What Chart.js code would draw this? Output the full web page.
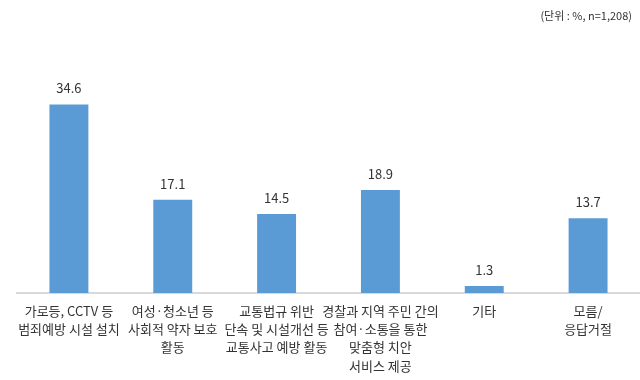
<!DOCTYPE html>
<html>
<head>
<meta charset="utf-8">
<script src="https://cdn.jsdelivr.net/npm/chart.js@4/dist/chart.umd.min.js"></script>
<style>
html,body{margin:0;padding:0;background:#fff;}
#wrap{width:640px;height:380px;position:relative;}
</style>
</head>
<body>
<div id="wrap"><canvas id="c" width="640" height="380"></canvas></div>
<script>
const categories = [
  ["가로등, CCTV 등", "범죄예방 시설 설치"],
  ["여성·청소년 등", "사회적 약자 보호", "활동"],
  ["교통법규 위반", "단속 및 시설개선 등", "교통사고 예방 활동"],
  ["경찰과 지역 주민 간의", "참여·소통을 통한", "맞춤형 치안", "서비스 제공"],
  ["기타"],
  ["모름/", "응답거절"]
];
const values = [34.6, 17.1, 14.5, 18.9, 1.3, 13.7];
const unitNote = "(단위 : %, n=1,208)";

const FONT = "'Noto Sans CJK KR', 'Noto Sans', sans-serif";

const labelPlugin = {
  id: 'valueLabels',
  afterDatasetsDraw(chart) {
    const ctx = chart.ctx;
    const meta = chart.getDatasetMeta(0);
    ctx.save();
    ctx.font = "13px " + FONT;
    ctx.fillStyle = '#333333';
    ctx.textAlign = 'center';
    ctx.textBaseline = 'middle';
    meta.data.forEach((bar, i) => {
      ctx.fillText(values[i].toFixed(1), bar.x, bar.y - 16);
    });
    ctx.font = "11px " + FONT;
    ctx.textAlign = 'right';
    ctx.fillText(unitNote, 632, 16);
    ctx.restore();
  }
};

new Chart(document.getElementById('c'), {
  type: 'bar',
  data: {
    labels: categories,
    datasets: [{
      data: values,
      backgroundColor: '#5B9BD5',
      borderWidth: 0,
      categoryPercentage: 1.0,
      barPercentage: 0.375
    }]
  },
  options: {
    responsive: false,
    animation: false,
    layout: { padding: { top: 75, left: 17, right: 0, bottom: 0 } },
    plugins: { legend: { display: false }, tooltip: { enabled: false } },
    scales: {
      x: {
        grid: { display: false, drawTicks: false },
        border: { display: true, color: '#D9D9D9', width: 2 },
        ticks: {
          color: '#333333',
          font: { family: FONT, size: 13, lineHeight: 1.4 },
          padding: 9,
          maxRotation: 0,
          autoSkip: false
        },
        afterFit(scale) { scale.height = 87; }
      },
      y: {
        display: false,
        min: 0,
        max: 40
      }
    }
  },
  plugins: [labelPlugin]
});
</script>
</body>
</html>
